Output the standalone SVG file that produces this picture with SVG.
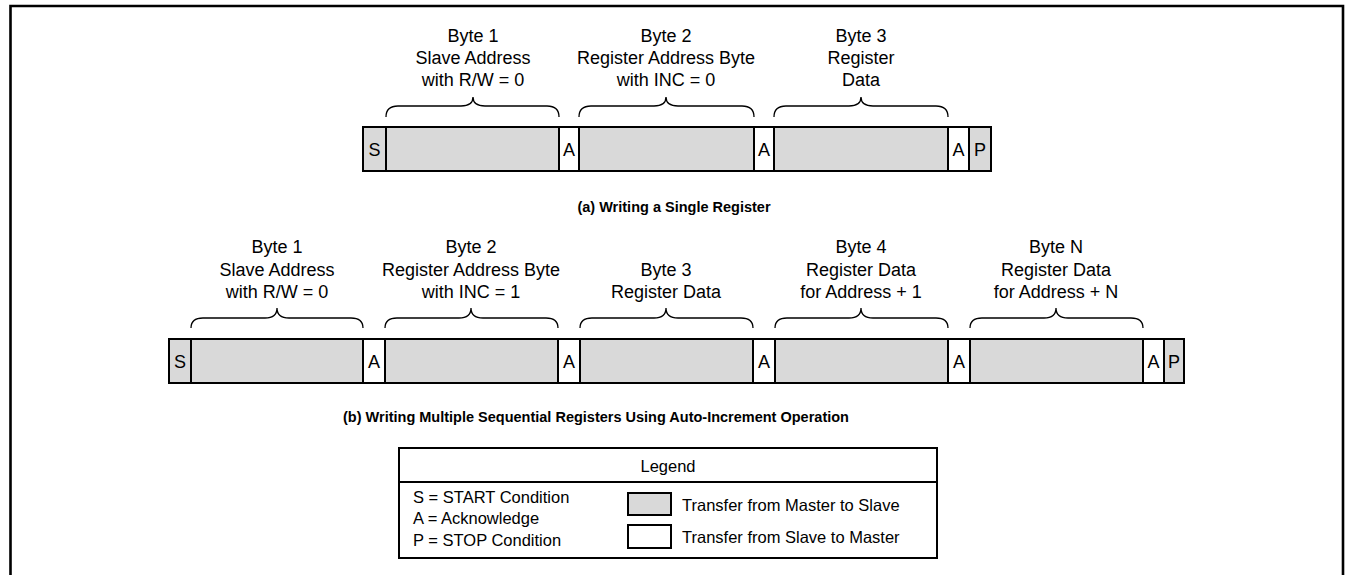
<svg xmlns="http://www.w3.org/2000/svg" width="1345" height="575" viewBox="0 0 1345 575">
<style>
.frame{fill:none;stroke:#000;stroke-width:2.6}
.m{fill:#d9d9d9;stroke:#000;stroke-width:2}
.s{fill:#fff;stroke:#000;stroke-width:2}
.br{fill:none;stroke:#000;stroke-width:1.3}
text{font-family:"Liberation Sans",Arial,sans-serif;fill:#000}
.lbl{font-size:18px;text-anchor:middle}
.cell{font-size:18px;text-anchor:middle}
.cap{font-size:14.5px;font-weight:bold;text-anchor:middle}
.lg{font-size:16.5px}
</style>
<rect x="0" y="0" width="1345" height="575" fill="#fff"/>
<path class="frame" d="M10.5,575 V6 H1343 V575"/>

<g id="row-a">
  <g id="a-S"><rect class="m" x="363" y="127" width="23" height="44"/><text class="cell" x="374.5" y="156">S</text></g>
  <g id="a-D1"><rect class="m" x="386" y="127" width="173" height="44"/></g>
  <g id="a-A1"><rect class="s" x="559" y="127" width="20" height="44"/><text class="cell" x="569" y="156">A</text></g>
  <g id="a-D2"><rect class="m" x="579" y="127" width="175" height="44"/></g>
  <g id="a-A2"><rect class="s" x="754" y="127" width="20" height="44"/><text class="cell" x="764" y="156">A</text></g>
  <g id="a-D3"><rect class="m" x="774" y="127" width="174" height="44"/></g>
  <g id="a-A3"><rect class="s" x="948" y="127" width="21" height="44"/><text class="cell" x="958.5" y="156">A</text></g>
  <g id="a-P"><rect class="m" x="969" y="127" width="22" height="44"/><text class="cell" x="980" y="156">P</text></g>
  <g id="a-L1"><text class="lbl" x="473" y="42">Byte 1</text><text class="lbl" x="473" y="64">Slave Address</text><text class="lbl" x="473" y="86">with R/W = 0</text></g>
  <g id="a-L2"><text class="lbl" x="666" y="42">Byte 2</text><text class="lbl" x="666" y="64">Register Address Byte</text><text class="lbl" x="666" y="86">with INC = 0</text></g>
  <g id="a-L3"><text class="lbl" x="861" y="42">Byte 3</text><text class="lbl" x="861" y="64">Register</text><text class="lbl" x="861" y="86">Data</text></g>
  <text class="cap" x="674" y="212">(a) Writing a Single Register</text>
</g>

<g id="row-b">
  <g id="b-S"><rect class="m" x="169" y="339" width="22" height="44"/><text class="cell" x="180" y="368">S</text></g>
  <g id="b-D1"><rect class="m" x="191" y="339" width="172" height="44"/></g>
  <g id="b-A1"><rect class="s" x="363" y="339" width="22" height="44"/><text class="cell" x="374" y="368">A</text></g>
  <g id="b-D2"><rect class="m" x="385" y="339" width="173" height="44"/></g>
  <g id="b-A2"><rect class="s" x="558" y="339" width="22" height="44"/><text class="cell" x="569" y="368">A</text></g>
  <g id="b-D3"><rect class="m" x="580" y="339" width="173" height="44"/></g>
  <g id="b-A3"><rect class="s" x="753" y="339" width="22" height="44"/><text class="cell" x="764" y="368">A</text></g>
  <g id="b-D4"><rect class="m" x="775" y="339" width="173" height="44"/></g>
  <g id="b-A4"><rect class="s" x="948" y="339" width="22" height="44"/><text class="cell" x="959" y="368">A</text></g>
  <g id="b-D5"><rect class="m" x="970" y="339" width="173" height="44"/></g>
  <g id="b-A5"><rect class="s" x="1143" y="339" width="21" height="44"/><text class="cell" x="1153.5" y="368">A</text></g>
  <g id="b-P"><rect class="m" x="1164" y="339" width="20" height="44"/><text class="cell" x="1174" y="368">P</text></g>
  <g id="b-L1"><text class="lbl" x="277" y="253">Byte 1</text><text class="lbl" x="277" y="276">Slave Address</text><text class="lbl" x="277" y="298">with R/W = 0</text></g>
  <g id="b-L2"><text class="lbl" x="471" y="253">Byte 2</text><text class="lbl" x="471" y="276">Register Address Byte</text><text class="lbl" x="471" y="298">with INC = 1</text></g>
  <g id="b-L3"><text class="lbl" x="666" y="276">Byte 3</text><text class="lbl" x="666" y="298">Register Data</text></g>
  <g id="b-L4"><text class="lbl" x="861" y="253">Byte 4</text><text class="lbl" x="861" y="276">Register Data</text><text class="lbl" x="861" y="298">for Address + 1</text></g>
  <g id="b-L5"><text class="lbl" x="1056" y="253">Byte N</text><text class="lbl" x="1056" y="276">Register Data</text><text class="lbl" x="1056" y="298">for Address + N</text></g>
  <text class="cap" x="596" y="422">(b) Writing Multiple Sequential Registers Using Auto-Increment Operation</text>
</g>

<g id="connectors">
  <path class="br" d="M386,117 Q386,106 398,106 L461,106 Q473,106 473,97 Q473,106 485,106 L547,106 Q559,106 559,117"/>
  <path class="br" d="M579,117 Q579,106 591,106 L654,106 Q666,106 666,97 Q666,106 678,106 L742,106 Q754,106 754,117"/>
  <path class="br" d="M774,117 Q774,106 786,106 L849,106 Q861,106 861,97 Q861,106 873,106 L936,106 Q948,106 948,117"/>
  <path class="br" d="M191,328 Q191,318 203,318 L265,318 Q277,318 277,308 Q277,318 289,318 L351,318 Q363,318 363,328"/>
  <path class="br" d="M385,328 Q385,318 397,318 L459,318 Q471,318 471,308 Q471,318 483,318 L546,318 Q558,318 558,328"/>
  <path class="br" d="M580,328 Q580,318 592,318 L654,318 Q666,318 666,308 Q666,318 678,318 L741,318 Q753,318 753,328"/>
  <path class="br" d="M775,328 Q775,318 787,318 L849,318 Q861,318 861,308 Q861,318 873,318 L936,318 Q948,318 948,328"/>
  <path class="br" d="M970,328 Q970,318 982,318 L1044,318 Q1056,318 1056,308 Q1056,318 1068,318 L1131,318 Q1143,318 1143,328"/>
</g>

<g id="legend">
  <rect x="399" y="448" width="538" height="110" fill="#fff" stroke="#000" stroke-width="2"/>
  <line x1="399" y1="482" x2="937" y2="482" stroke="#000" stroke-width="2"/>
  <text class="lg" x="668" y="472" text-anchor="middle">Legend</text>
  <text class="lg" x="413" y="503">S = START Condition</text>
  <text class="lg" x="413" y="524">A = Acknowledge</text>
  <text class="lg" x="413" y="546">P = STOP Condition</text>
  <rect class="m" x="628" y="493" width="43" height="22"/>
  <rect class="s" x="628" y="525" width="43" height="23"/>
  <text class="lg" x="682" y="511">Transfer from Master to Slave</text>
  <text class="lg" x="682" y="543">Transfer from Slave to Master</text>
</g>
</svg>
